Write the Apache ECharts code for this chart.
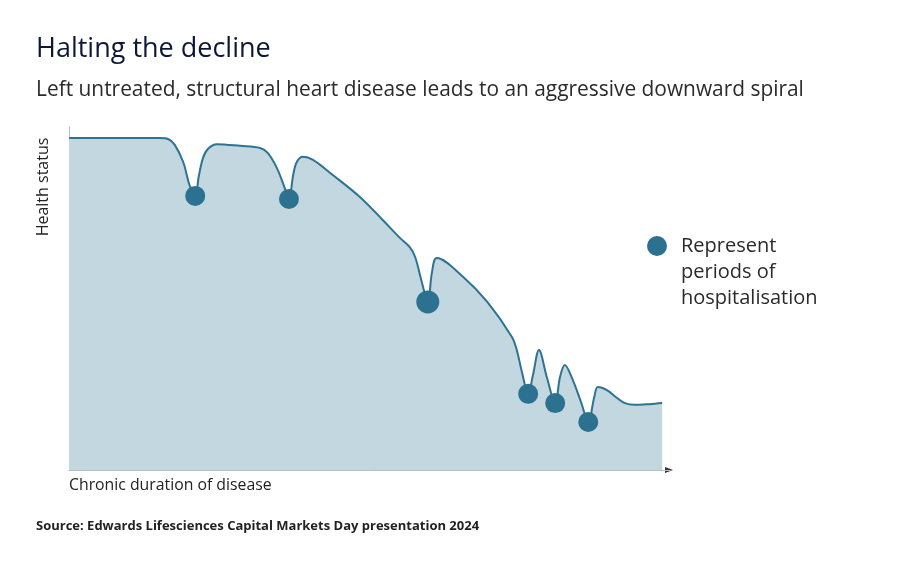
<!DOCTYPE html>
<html>
<head>
<meta charset="utf-8">
<script src="https://cdn.jsdelivr.net/npm/echarts@6/dist/echarts.min.js"></script>
<style>
  html, body { margin: 0; padding: 0; background: #fff; }
  #main { width: 900px; height: 567px; }
</style>
</head>
<body>
<div id="main"></div>
<script>
// health status curve (x: duration 0-100, y: status 0-100)
var curveX = [0, 15.1, 16.5, 17.6, 19.0, 20.1, 21.0, 21.6, 22.3, 23.1, 24.6, 28.5, 31.8, 33.1, 34.6, 35.9, 36.6,
              37.3, 37.9, 38.9, 40.6, 43.9, 48.4, 52.2, 55.1, 56.7, 57.6, 58.7, 59.7, 60.4, 61.2, 65.6, 69.6,
              73.7, 74.5, 75.4, 76.4, 77.2, 78.2, 79.5, 80.9, 81.7, 82.5, 83.7, 85.2, 86.4, 87.4, 88.0, 89.5,
              91.2, 92.5, 94.1, 96.6, 98.7];
var curveY = [96.8, 96.8, 96.5, 94.8, 89.8, 82.8, 79.9, 85.7, 91.0, 93.6, 95.0, 94.5, 93.9, 92.4, 88.0, 82.2, 79.0,
              86.0, 89.8, 91.3, 90.4, 86.0, 79.6, 72.9, 67.6, 65.0, 62.1, 54.8, 49.0, 57.7, 61.8, 56.3, 49.0,
              38.8, 35.0, 28.3, 22.2, 27.7, 35.0, 27.1, 19.5, 27.1, 30.6, 26.8, 19.8, 14.0, 21.3, 24.2, 23.3,
              21.0, 19.5, 19.0, 19.2, 19.5];

// hospitalisation periods
var hospX = [21.0, 36.6, 59.7, 76.4, 80.9, 86.4];
var hospY = [79.9, 79.0, 49.0, 22.2, 19.5, 14.0];
var hospSize = [20, 20, 23, 20, 20, 20];

var legendName = 'Represent';

var curveData = [];
for (var i = 0; i < curveX.length; i++) {
    curveData.push([curveX[i], curveY[i]]);
}
var hospData = [];
for (var j = 0; j < hospX.length; j++) {
    hospData.push({ value: [hospX[j], hospY[j]], symbolSize: hospSize[j] });
}

var myChart = echarts.init(document.getElementById('main'));
var font = 'Open Sans';
var option = {
    backgroundColor: '#fff',
    animation: false,
    textStyle: { fontFamily: font },
    title: [
        {
            text: 'Halting the decline',
            left: 31, top: 31,
            textStyle: { fontFamily: font, fontSize: 27, fontWeight: 500, color: '#0d1838' }
        },
        {
            text: 'Left untreated, structural heart disease leads to an aggressive downward spiral',
            left: 31, top: 75,
            textStyle: { fontFamily: font, fontSize: 20.9, fontWeight: 'normal', color: '#2b2b2b' }
        },
        {
            text: 'Source: Edwards Lifesciences Capital Markets Day presentation 2024',
            left: 31, top: 515,
            textStyle: { fontFamily: font, fontSize: 13, fontWeight: 'bold', color: '#222' }
        }
    ],
    legend: {
        data: [legendName],
        left: 642, top: 231,
        icon: 'circle',
        itemWidth: 38, itemHeight: 20,
        selectedMode: false,
        textStyle: { fontFamily: font, fontSize: 20, color: '#2b2b2b' }
    },
    graphic: [
        {
            type: 'text', left: 681, top: 259,
            style: { text: 'periods of\nhospitalisation', font: '20px "Open Sans"', fill: '#2b2b2b', lineHeight: 26 }
        },
        {
            type: 'text', x: 43, y: 187, rotation: Math.PI / 2,
            style: { text: 'Health status', font: '16px "Open Sans"', fill: '#222', align: 'center', verticalAlign: 'middle' }
        },
        {
            type: 'polygon',
            shape: { points: [[665, 467], [673, 470], [665, 473]] },
            style: { fill: '#333' }
        }
    ],
    grid: { left: 69, right: 230, top: 127, bottom: 97 },
    xAxis: {
        type: 'value', min: 0, max: 100,
        name: 'Chronic duration of disease',
        nameLocation: 'start', nameGap: 0,
        nameTextStyle: { align: 'left', verticalAlign: 'top', padding: [7, 0, 0, 0], fontSize: 15.8, color: '#222' },
        axisLine: { show: true, lineStyle: { color: '#bdbdbd', width: 1 } },
        axisTick: { show: false }, axisLabel: { show: false }, splitLine: { show: false }
    },
    yAxis: {
        type: 'value', min: 0, max: 100,
        axisLine: { show: true, lineStyle: { color: '#bdbdbd', width: 1 } },
        axisTick: { show: false }, axisLabel: { show: false }, splitLine: { show: false }
    },
    series: [
        {
            name: 'Health status',
            type: 'line',
            data: curveData,
            smooth: 0.35,
            showSymbol: false,
            lineStyle: { color: '#2e7391', width: 2 },
            areaStyle: { color: '#c2d7e0', opacity: 1 },
            z: 2
        },
        {
            name: legendName,
            type: 'scatter',
            data: hospData,
            symbol: 'circle',
            itemStyle: { color: '#2d7190', opacity: 1 },
            z: 5
        }
    ]
};
myChart.setOption(option);
</script>
</body>
</html>
